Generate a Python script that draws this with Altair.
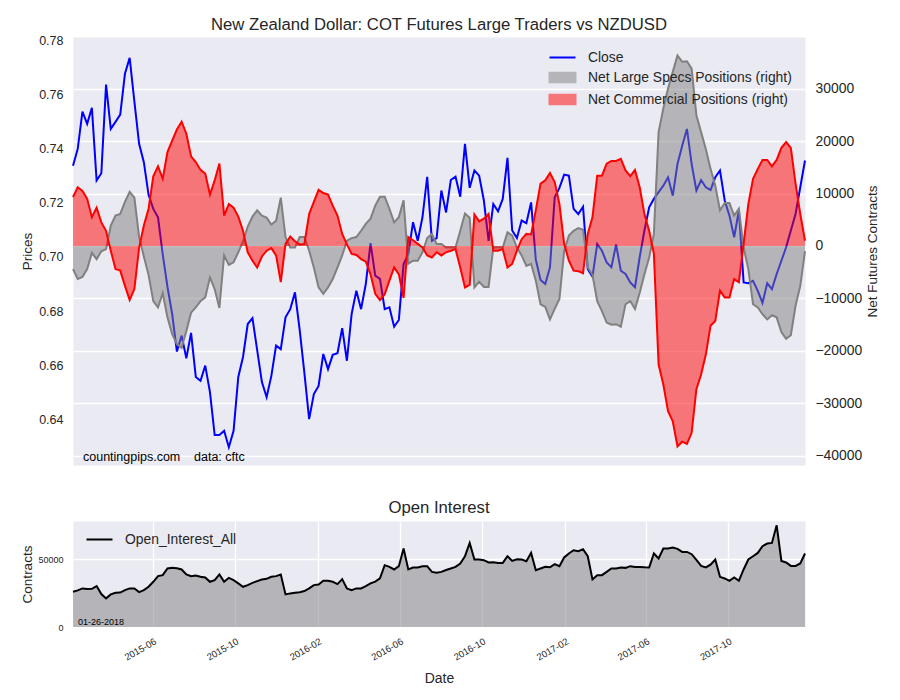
import altair as alt
import pandas as pd

FONT = "Liberation Sans"
TXT = "#262626"

first_week = "2015-02-03"

close = [
    0.7338, 0.7400, 0.7538, 0.7493, 0.7552, 0.7283, 0.7310, 0.7638, 0.7474, 0.7500,
    0.7527, 0.7678, 0.7737, 0.7575, 0.7419, 0.7351, 0.7230, 0.7178, 0.7147, 0.7010,
    0.6890, 0.6789, 0.6650, 0.6709, 0.6625, 0.6719, 0.6556, 0.6542, 0.6598, 0.6500,
    0.6341, 0.6341, 0.6357, 0.6296, 0.6357, 0.6556, 0.6630, 0.6752, 0.6774, 0.6655,
    0.6537, 0.6481, 0.6560, 0.6672, 0.6659, 0.6777, 0.6807, 0.6869, 0.6730, 0.6570,
    0.6400, 0.6493, 0.6523, 0.6641, 0.6585, 0.6638, 0.6644, 0.6737, 0.6616, 0.6789,
    0.6875, 0.6807, 0.6900, 0.7051, 0.6931, 0.6919, 0.6807, 0.6814, 0.6742, 0.6767,
    0.6974, 0.7010, 0.7129, 0.7060, 0.7147, 0.7297, 0.7060, 0.7070, 0.7246, 0.7165,
    0.7285, 0.7297, 0.7223, 0.7419, 0.7256, 0.7320, 0.7301, 0.7209, 0.7060, 0.7196,
    0.7169, 0.7215, 0.7367, 0.7098, 0.7070, 0.7135, 0.7125, 0.7202, 0.6990, 0.6915,
    0.6900, 0.6962, 0.7221, 0.7256, 0.7305, 0.7301, 0.7178, 0.7159, 0.7186, 0.6955,
    0.6927, 0.7048, 0.7023, 0.6980, 0.6962, 0.7046, 0.6949, 0.6937, 0.6906, 0.6888,
    0.7000, 0.7098, 0.7184, 0.7215, 0.7240, 0.7264, 0.7295, 0.7227, 0.7344, 0.7412,
    0.7474, 0.7344, 0.7246, 0.7285, 0.7258, 0.7248, 0.7295, 0.7320, 0.7209, 0.7153,
    0.7073, 0.7172, 0.6906, 0.6903, 0.6912, 0.6875, 0.6830, 0.6903, 0.6881, 0.6937,
    0.6986, 0.7036, 0.7098, 0.7159, 0.7258, 0.7357,
]

net_large_specs = [
    -4400, -6300, -5900, -4400, -1300, -2500, -1000, -600, 3900, 5800,
    6100, 8400, 10300, 9200, 1700, -2000, -5500, -10500, -11700, -9000,
    -13600, -16800, -18700, -19400, -16200, -12700, -11700, -10500, -9800, -6000,
    -8200, -11800, -1800, -3600, -3100, -1200, 900, 3700, 5600, 6800,
    5800, 5400, 4100, 4800, 9200, 1700, -300, -300, 1700, 1700,
    -900, -4100, -7900, -9100, -7900, -6300, -4100, -1800, 1000, 1500,
    1700, 2900, 4200, 5200, 7700, 9400, 9400, 7100, 4500, 5500,
    8700, -3400, -2800, -2800, -1200, 1500, 2300, 400, 400, -300,
    -300, -300, 2900, 6200, 5400, -7900, -6800, -7800, -7800, -300,
    -300, -300, 2600, 2000, -300, -1800, -3800, -3400, -6600, -11100,
    -11600, -14000, -12000, -10100, -1000, 2000, 2900, 3400, 3100, -4100,
    -5500, -10500, -12400, -14600, -15000, -14900, -15400, -11100, -10500, -12000,
    -8900, -5400, -2200, 2300, 21700, 26200, 30000, 33200, 36300, 35100,
    35200, 33800, 24900, 21700, 18500, 14700, 11500, 6800, 8200, 8200,
    5800, 7100, -300, -4400, -11100, -11700, -13000, -14000, -13200, -13600,
    -16400, -17700, -17000, -11400, -7600, -1000,
]

net_commercial = [
    9300, 11200, 10500, 9000, 5500, 7300, 4500, 2900, -900, -4400,
    -4700, -7600, -10300, -8200, -300, 3900, 7100, 13300, 15200, 12800,
    17900, 20100, 22200, 23700, 21400, 17100, 16000, 14500, 13800, 9800,
    12500, 15700, 5800, 8000, 7300, 5600, 2900, -1200, -2800, -4100,
    -2000, -900, -400, -1800, -6900, 400, 1800, 900, 300, 400,
    6100, 8400, 10700, 10100, 9800, 7700, 5800, 2300, 300, -1500,
    -1700, -2500, -3000, -5400, -9100, -10300, -9200, -6600, -4100, -5400,
    -9900, 1700, 1100, 400, -300, -1800, -2200, -1200, -1800, -1200,
    -900, -600, -4100, -7900, -7400, 6000, 4700, 5200, 6100, -900,
    -900, -600, -4100, -3400, -900, 1300, 2300, 2200, 6800, 11900,
    12500, 13900, 12200, 8000, 400, -2800, -4700, -4800, -5200, 2300,
    5500, 13400, 13400, 15700, 16200, 16200, 16600, 14400, 13300, 14500,
    11200, 6100, 2900, -1500, -22600, -26400, -31500, -33400, -38200, -37300,
    -37700, -35600, -27300, -24500, -20700, -15200, -14300, -8500, -9800, -9800,
    -6300, -6900, 400, 8000, 12800, 14700, 16400, 16400, 15200, 16400,
    18700, 19800, 18700, 11900, 6100, 1000,
]

open_interest = [
    25980, 27000, 28440, 28000, 28200, 30150, 24265, 21100, 24040, 25220,
    25400, 27200, 28440, 28440, 25740, 27200, 29640, 33320, 37500, 38240,
    43160, 43600, 43300, 42430, 38750, 37500, 38000, 37000, 36500, 33320,
    34560, 38750, 33320, 36250, 34560, 32130, 29640, 30880, 32570, 33820,
    35070, 35510, 37000, 37500, 38750, 24040, 24780, 25200, 25600, 26500,
    28440, 30880, 31300, 34070, 34070, 33320, 31620, 35300, 28440, 27200,
    28440, 28440, 30150, 32130, 33500, 35800, 45590, 44340, 42430, 44850,
    57870, 42430, 43900, 43900, 44850, 44850, 40660, 39930, 40660, 42000,
    43160, 44300, 46840, 52200, 62000, 49780, 49780, 49270, 47570, 47800,
    47280, 47280, 52200, 48750, 50000, 49780, 48530, 54630, 41910, 43160,
    44340, 44000, 46320, 44850, 51250, 54190, 56620, 55880, 57350, 52200,
    35070, 38240, 38240, 40660, 43160, 43160, 43900, 43600, 44850, 44300,
    44300, 44000, 43900, 54190, 50520, 57870, 57870, 58600, 57600, 55370,
    55370, 53680, 49500, 45000, 43900, 46000, 49780, 37000, 35800, 34070,
    36540, 34070, 42430, 49780, 52200, 54630, 59560, 61540, 61990, 75000,
    48750, 47570, 45070, 45070, 46840, 54190,
]

series_names = ["Close", "Net Large Specs Positions (right)", "Net Commercial Positions (right)"]
series_fill = ["blue", "#b5b5b9", "#f57579"]
series_stroke = ["blue", "#b5b5b9", "#f57579"]
series_shape = ["M-2,0H2", "M-2,-0.72H2V0.72H-2Z", "M-2,-0.72H2V0.72H-2Z"]
oi_name = ["Open_Interest_All"]

date_ticks = ["2015-06-01", "2015-10-01", "2016-02-01", "2016-06-01",
              "2016-10-01", "2017-02-01", "2017-06-01", "2017-10-01"]
price_ticks = [0.64, 0.66, 0.68, 0.70, 0.72, 0.74, 0.76, 0.78]
net_ticks = [-40000, -30000, -20000, -10000, 0, 10000, 20000, 30000]
oi_ticks = [0, 50000]

main_title = "New Zealand Dollar: COT Futures Large Traders vs NZDUSD"
sub_title = "Open Interest"
note_site = "countingpips.com"
note_data = "data: cftc"
stamp = "01-26-2018"

weeks = pd.date_range(first_week, periods=len(close), freq="7D")
df = pd.DataFrame({
    "date": weeks.strftime("%Y-%m-%d"),
    "close": close,
    "specs": net_large_specs,
    "comm": net_commercial,
    "oi": open_interest,
})


def dt(s):
    y, m, d = (int(v) for v in s.split("-"))
    return alt.DateTime(year=y, month=m, date=d, utc=True)


x_scale = alt.Scale(type="utc", nice=False)
x_top = alt.X("date:T", scale=x_scale, axis=None)

# ---------------- top panel ----------------
left_axis = alt.Axis(title="Prices", values=price_ticks, format=".2f", grid=False,
                     labelFontSize=12.5, titleFontSize=13.5, labelPadding=10,
                     titlePadding=3, minExtent=36, maxExtent=36)
price_scale = alt.Scale(domain=[0.62302, 0.78142], nice=False, zero=False)

close_line = alt.Chart(df).mark_line(color="blue", strokeWidth=2).encode(
    x=x_top, y=alt.Y("close:Q", scale=price_scale, axis=left_axis))

right_scale = alt.Scale(domain=[-41740, 39830], nice=False, zero=False)
right_axis = alt.Axis(orient="right", title="Net Futures Contracts", values=net_ticks,
                      format="d", grid=True, labelFontSize=13.9, titleFontSize=13.5,
                      labelPadding=10, titlePadding=3, minExtent=57, maxExtent=57,
                      titleAngle=270, titleBaseline="top")

base = alt.Chart(df)
specs_area = base.mark_area(color="gray", fillOpacity=0.5).encode(
    x=x_top, y=alt.Y("specs:Q", scale=right_scale, axis=right_axis), y2=alt.datum(0))
specs_line = base.mark_line(color="gray", strokeWidth=2).encode(
    x=x_top, y=alt.Y("specs:Q", scale=right_scale, axis=right_axis))
comm_area = base.mark_area(color="red", fillOpacity=0.5).encode(
    x=x_top, y=alt.Y("comm:Q", scale=right_scale, axis=right_axis), y2=alt.datum(0))
comm_line = base.mark_line(color="red", strokeWidth=2).encode(
    x=x_top, y=alt.Y("comm:Q", scale=right_scale, axis=right_axis))

top_legend = alt.Legend(title=None, orient="none", legendX=482, legendY=13,
                        labelFontSize=13.9, symbolSize=169, symbolStrokeWidth=2,
                        labelOffset=18, rowPadding=3, labelLimit=400, padding=0,
                        symbolOpacity=1, labelColor=TXT)
legend_dummy = base.transform_filter("false").mark_point(filled=True, opacity=1).encode(
    x=x_top,
    y=alt.Y("specs:Q", scale=right_scale, axis=right_axis),
    fill=alt.Fill("series:N", scale=alt.Scale(domain=series_names, range=series_fill), legend=top_legend),
    stroke=alt.Stroke("series:N", scale=alt.Scale(domain=series_names, range=series_stroke), legend=top_legend),
    shape=alt.Shape("series:N", scale=alt.Scale(domain=series_names, range=series_shape), legend=top_legend),
)

right_group = alt.layer(specs_area, specs_line, comm_area, comm_line, legend_dummy)

note1 = alt.Chart(pd.DataFrame({"t": [note_site]})).mark_text(
    align="left", baseline="alphabetic", fontSize=12.5, color="black").encode(
    x=alt.value(10), y=alt.value(424), text="t:N")
note2 = alt.Chart(pd.DataFrame({"t": [note_data]})).mark_text(
    align="left", baseline="alphabetic", fontSize=12.5, color="black").encode(
    x=alt.value(121), y=alt.value(424), text="t:N")

top = alt.layer(close_line, right_group, note1, note2).resolve_scale(
    y="independent").properties(
    width=732, height=428,
    title=alt.TitleParams(main_title, fontSize=16.7, offset=1))

# ---------------- bottom panel ----------------
x_bot = alt.X("date:T", scale=x_scale, axis=alt.Axis(
    title="Date", values=[dt(s) for s in date_ticks], format="%Y-%m", labelAngle=-30,
    labelFontSize=9.5, titleFontSize=14, grid=True, labelPadding=9, titlePadding=10))
oi_scale = alt.Scale(domain=[0, 78160], nice=False)
oi_axis = alt.Axis(title="Contracts", values=oi_ticks, format="d", grid=True,
                   labelFontSize=9, titleFontSize=13.5, labelPadding=10, titlePadding=3,
                   minExtent=36, maxExtent=36)

oi_area = base.mark_area(color="gray", fillOpacity=0.5).encode(
    x=x_bot, y=alt.Y("oi:Q", scale=oi_scale, axis=oi_axis), y2=alt.datum(0))
oi_line = base.mark_line(color="black", strokeWidth=2).encode(
    x=x_bot, y=alt.Y("oi:Q", scale=oi_scale, axis=oi_axis))
bot_legend = alt.Legend(title=None, orient="none", legendX=19, legendY=11,
                        labelFontSize=13.9, symbolSize=169, symbolStrokeWidth=2,
                        labelOffset=18, labelLimit=400, padding=0, symbolOpacity=1,
                        labelColor=TXT)
oi_dummy = base.transform_filter("false").mark_point(filled=True, opacity=1).encode(
    x=x_bot,
    y=alt.Y("oi:Q", scale=oi_scale, axis=oi_axis),
    fill=alt.Fill("oi_series:N", scale=alt.Scale(domain=oi_name, range=["black"]), legend=bot_legend),
    stroke=alt.Stroke("oi_series:N", scale=alt.Scale(domain=oi_name, range=["black"]), legend=bot_legend),
    shape=alt.Shape("oi_series:N", scale=alt.Scale(domain=oi_name, range=["M-2,0H2"]), legend=bot_legend),
)
stamp_text = alt.Chart(pd.DataFrame({"t": [stamp]})).mark_text(
    align="left", baseline="alphabetic", fontSize=9, color="black").encode(
    x=alt.value(5), y=alt.value(104), text="t:N")

bottom = alt.layer(oi_area, oi_line, oi_dummy, stamp_text).properties(
    width=732, height=106,
    title=alt.TitleParams(sub_title, fontSize=16.7, offset=4))

chart = alt.vconcat(top, bottom, spacing=33).properties(
    padding={"left": 11, "top": 8, "right": 5, "bottom": 5}
).resolve_scale(
    fill="independent", stroke="independent", shape="independent"
).resolve_legend(
    fill="independent", stroke="independent", shape="independent"
).configure(
    font=FONT
).configure_view(
    fill="#EAEAF2", stroke="transparent"
).configure_axis(
    labelColor=TXT, titleColor=TXT, domain=False, ticks=False, gridColor="white",
    gridWidth=1.3, titleFontWeight="normal", labelFont=FONT, titleFont=FONT
).configure_title(
    font=FONT, fontWeight="normal", color=TXT, anchor="middle", frame="group",
    baseline="alphabetic"
).configure_legend(labelFont=FONT)

chart.save("out.html", embed_options={"renderer": "svg", "actions": False})
